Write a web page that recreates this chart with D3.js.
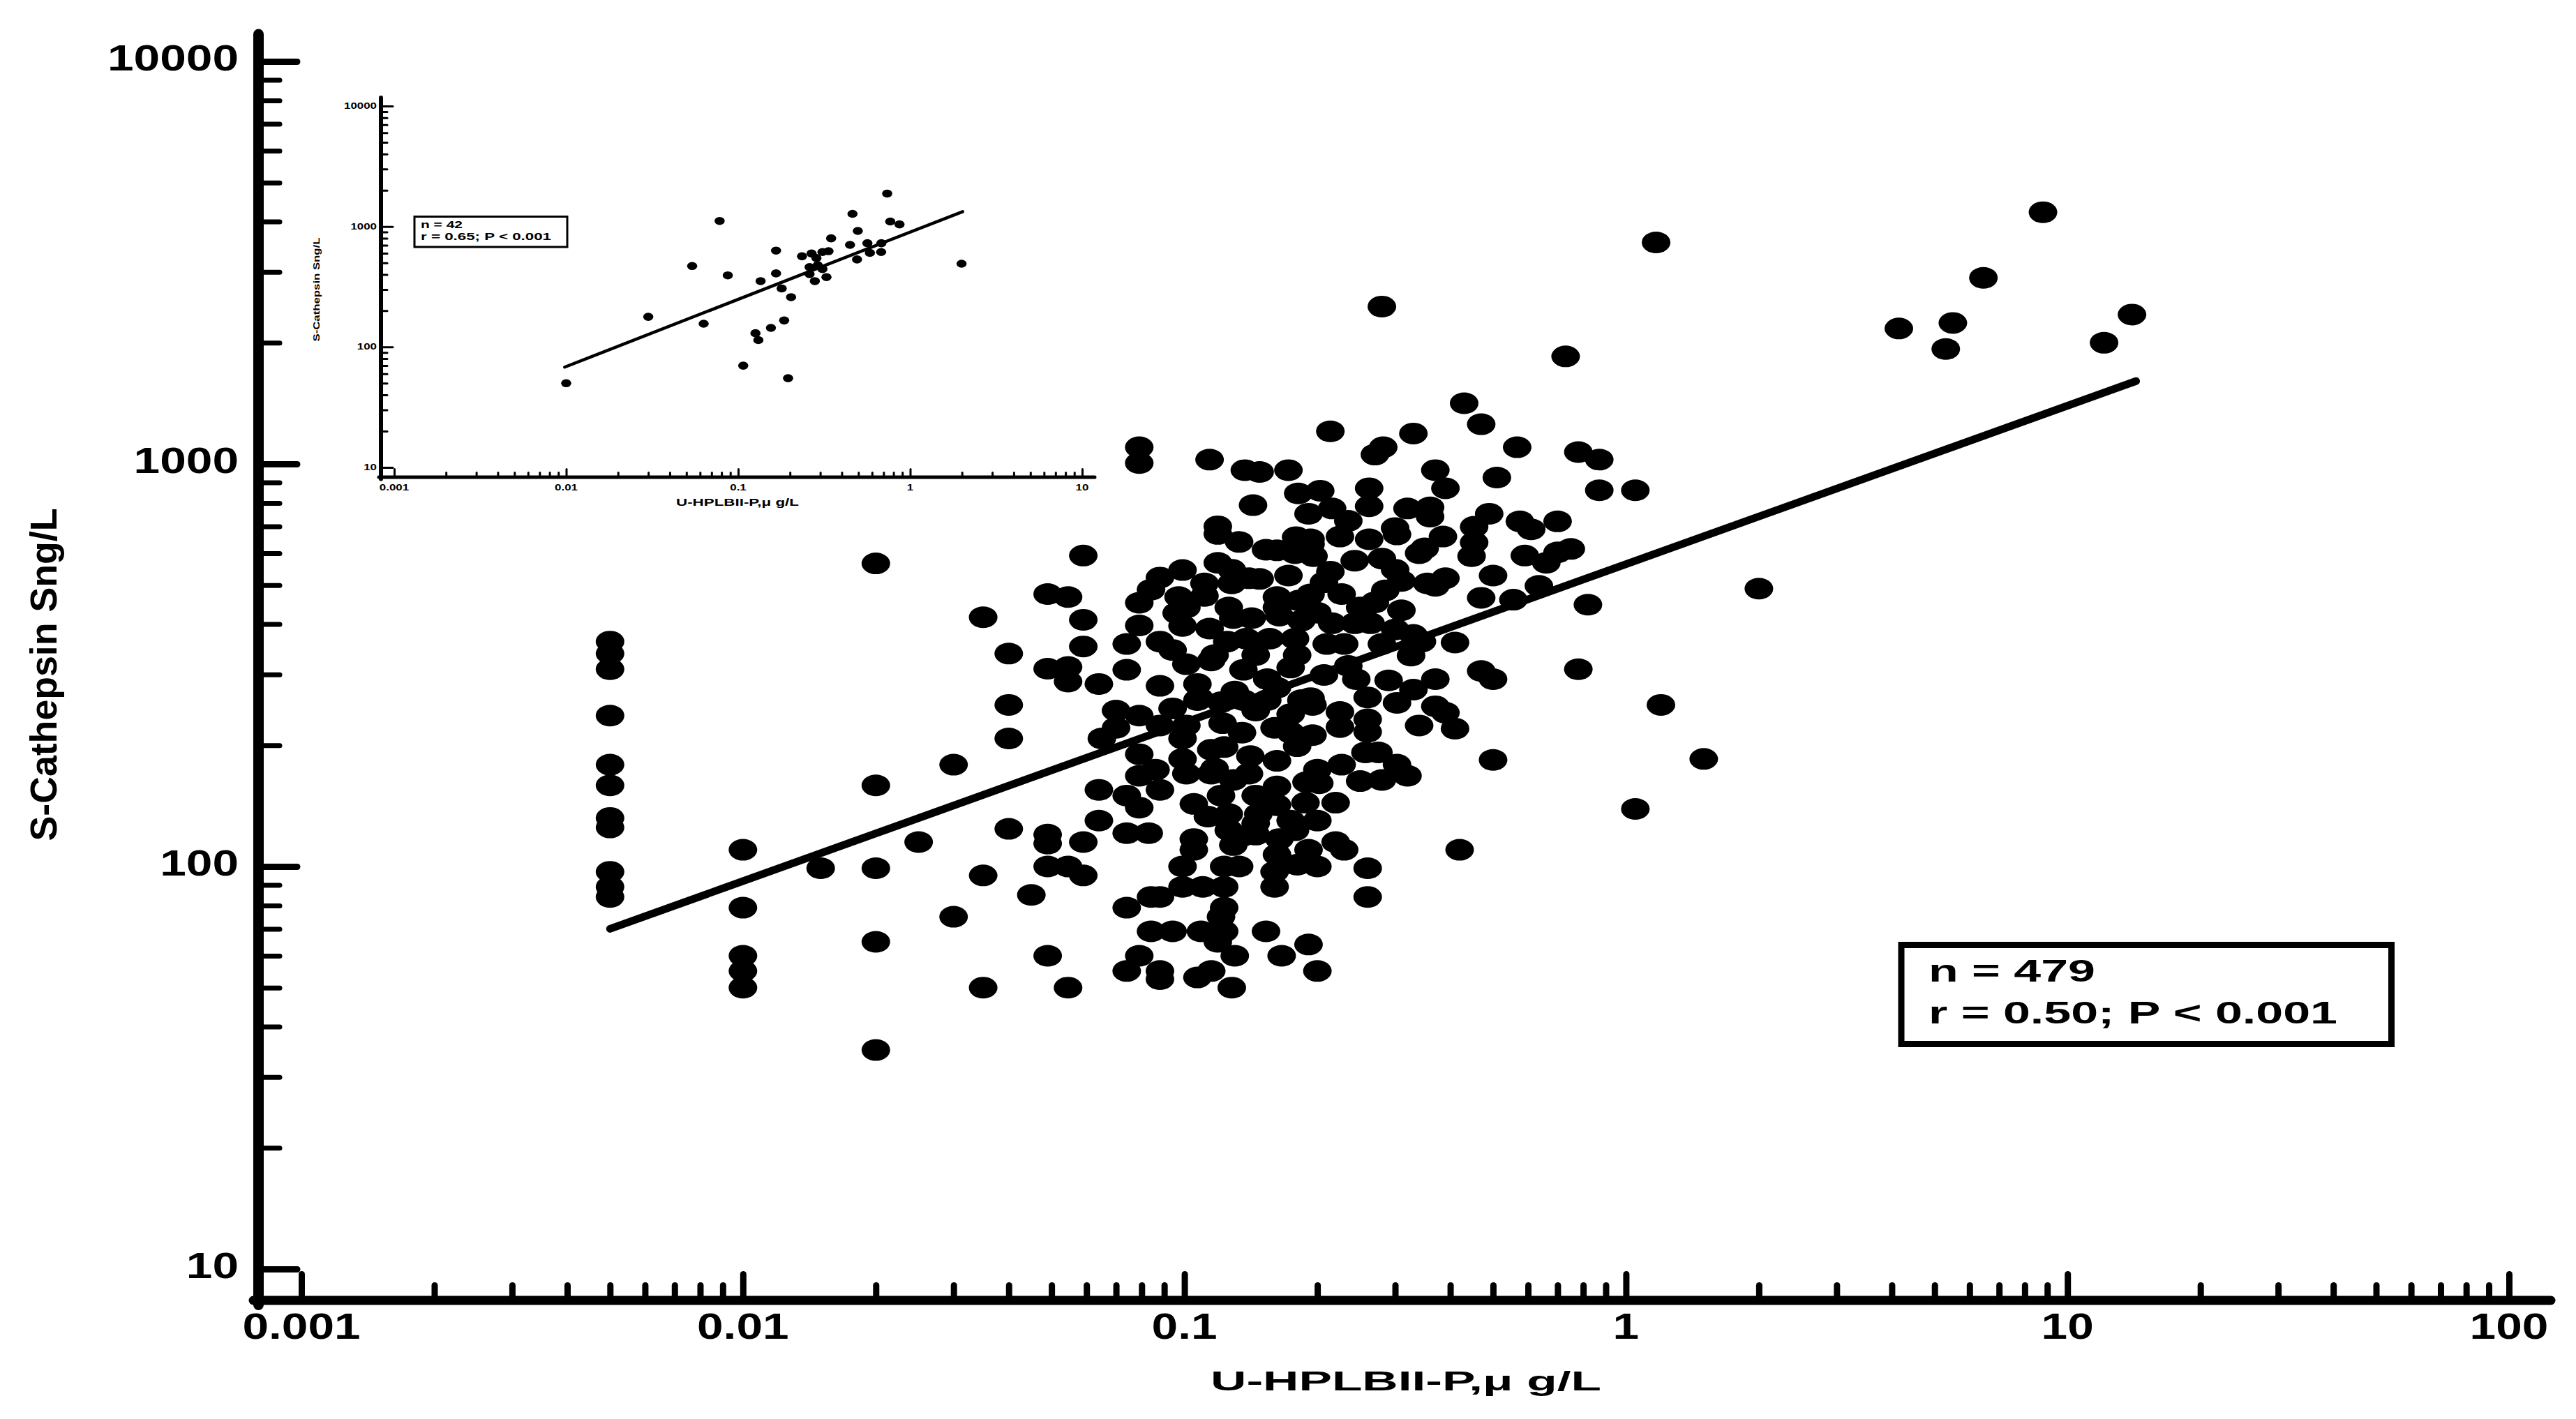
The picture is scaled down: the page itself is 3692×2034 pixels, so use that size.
<!DOCTYPE html>
<html>
<head>
<meta charset="utf-8">
<script src="https://cdn.jsdelivr.net/npm/d3@7"></script>
<style>
  body { margin: 0; background: #fff; }
  text { font-family: 'Liberation Sans', Arial, sans-serif; font-weight: bold; fill: #000; }
</style>
</head>
<body>
<div id="chart"></div>
<script>
// main scatter, [U-HPLBII-P ug/L, S-Cathepsin S ng/L]
var mainLow = [[0.005,362],[0.005,338],[0.005,309],[0.005,237],[0.005,179],[0.005,159],[0.005,132],[0.005,125],[0.005,97],[0.005,89],[0.005,84],
  [0.01,110],[0.01,79],[0.01,60],[0.01,55],[0.01,50],[0.015,99],
  [0.02,566],[0.02,159],[0.02,99],[0.02,65],[0.02,35],[0.025,115],[0.03,179],[0.03,75],
  [0.035,416],[0.035,95],[0.035,50],[0.04,338],[0.04,252],[0.04,208],[0.04,124],[0.045,85]];

var mainUpperLeft = [[0.079,1100],[0.079,1005],[0.114,1025],[0.137,965],[0.148,955],[0.172,965],[0.214,1205],[0.181,845],[0.203,858],[0.191,752],
  [0.143,790],[0.119,700],[0.119,670],[0.133,640],[0.153,612],[0.179,658],[0.193,650],[0.178,600],[0.196,590],[0.059,592],[0.099,545],[0.088,522],
  [0.119,568],[0.128,546],[0.128,505],[0.111,505],[0.148,518],[0.172,528],[0.207,508],[0.049,475],[0.0545,467],[0.084,487],[0.079,452],[0.097,467],
  [0.096,426],[0.111,470],[0.162,467],[0.182,458],[0.193,474],[0.059,410],[0.079,397],[0.099,396],[0.114,390],[0.129,414],[0.142,414],[0.164,420],
  [0.184,408],[0.2,427],[0.059,352],[0.074,357],[0.088,362],[0.125,362],[0.138,368],[0.156,368],[0.178,368],[0.049,310],[0.0545,313],[0.0545,288],
  [0.064,284],[0.074,308],[0.088,281],[0.101,318],[0.115,325],[0.136,308],[0.154,292],[0.174,312],[0.207,299],[0.107,284]];

var mainUpperRight = [[0.43,1415],[0.47,1255],[0.33,1190],[0.282,1100],[0.27,1055],[0.567,1100],[0.78,1070],[0.87,1025],[0.37,965],[0.39,870],
  [0.51,925],[0.87,860],[1.05,860],[0.216,775],[0.262,785],[0.32,775],[0.36,780],[0.36,740],[0.235,722],[0.3,693],[0.303,668],[0.385,660],[0.49,752],
  [0.453,698],[0.453,638],[0.447,590],[0.575,720],[0.61,688],[0.7,720],[0.75,615],[0.7,603],[0.59,592],[0.66,568],[0.262,650],[0.225,660],[0.243,575],
  [0.28,582],[0.34,600],[0.35,617],[0.3,546],[0.5,528],[0.39,520],[0.355,505],[0.31,512],[0.285,485],[0.227,475],[0.27,453],[0.31,433],[0.47,465],
  [0.556,460],[0.635,498],[0.82,447],[0.216,402],[0.243,402],[0.264,402],[0.23,357],[0.28,357],[0.33,376],[0.345,362],[0.326,334],[0.21,357],
  [0.245,292],[0.29,290],[0.37,292],[0.47,306],[0.5,292],[0.78,309],[0.33,275]];

var mainLowerLeft = [[0.07,244],[0.079,237],[0.094,247],[0.07,221],[0.065,208],[0.088,224],[0.099,208],[0.079,190],[0.099,185],[0.115,195],[0.123,198],
  [0.107,259],[0.121,256],[0.136,259],[0.154,259],[0.184,259],[0.195,252],[0.122,227],[0.16,221],[0.195,212],[0.141,188],[0.162,183],[0.18,199],
  [0.079,168],[0.088,155],[0.086,174],[0.101,170],[0.115,170],[0.129,164],[0.162,158],[0.189,162],[0.202,161],[0.064,155],[0.074,150],[0.079,140],
  [0.105,143],[0.121,150],[0.126,135],[0.147,135],[0.162,142],[0.174,130],[0.2,130],[0.064,130],[0.074,121],[0.083,121],[0.049,120],[0.049,114],
  [0.059,115],[0.105,117],[0.105,110],[0.126,123],[0.129,113],[0.145,120],[0.164,117],[0.191,110],[0.178,123],[0.049,100],[0.0545,100],[0.059,95],
  [0.099,100],[0.123,100],[0.133,100],[0.16,97],[0.16,89],[0.2,100],[0.099,89],[0.11,89],[0.123,89],[0.084,84],[0.088,84],[0.074,79],[0.123,79],
  [0.121,75],[0.084,69],[0.094,69],[0.109,69],[0.123,69],[0.119,65],[0.153,69],[0.13,60],[0.166,60],[0.191,64],[0.049,60],[0.079,60],[0.074,55],
  [0.088,55],[0.088,52.5],[0.107,53],[0.115,55],[0.128,50],[0.0545,50],[0.2,55]];

var mainLowerRight = [[0.26,263],[0.303,255],[0.225,242],[0.37,250],[0.39,241],[0.34,224],[0.41,220],[0.26,216],[0.225,222],[0.257,192],[0.275,192],
  [0.227,179],[0.303,179],[0.32,168],[0.28,164],[0.22,144],[0.22,115],[0.23,110],[0.26,99],[0.26,84],[0.42,110],[0.5,184],[1.05,139]];

// points mostly hidden inside the solid black core of the cloud
var mainCore = [[0.108,262],[0.145,244],[0.174,239],[0.135,215],[0.174,215],[0.145,128],[0.162,107],[0.135,119],[0.18,101],[0.117,335],
  [0.145,335],[0.18,335],[0.13,272],[0.162,278],[0.193,262],[0.126,440],[0.162,440],[0.101,224],[0.117,175],[0.14,170],[0.145,150],[0.188,144],
  [0.094,345],[0.101,440],[0.14,520],[0.162,610],[0.214,540],[0.25,440],[0.235,315],[0.26,232],[0.25,163],[0.3,388],[0.37,498],[0.41,360],
  [0.2,174],[0.113,133],[0.193,632],[0.262,870]];

var mainHigh = [[1.17,3550],[8.8,4220],[6.45,2900],[4.15,2170],[5.5,2240],[5.3,1930],[14,2350],[12.1,2000],[2.0,490],[1.2,252],[1.5,185],
  [0.28,2460],[0.73,1850]];

var mainFit = [[0.005,70],[14.3,1606]];

// inset (n = 42)
var insetData = [[0.01,50],[0.03,178],[0.054,470],[0.063,156],[0.078,1112],[0.087,393],[0.107,70],[0.126,130],[0.131,114],[0.135,352],
  [0.155,144],[0.166,631],[0.166,408],[0.179,306],[0.185,166],[0.195,55],[0.203,259],[0.235,566],[0.26,460],[0.26,402],[0.267,597],
  [0.279,352],[0.285,547],[0.29,478],[0.309,614],[0.309,443],[0.326,380],[0.335,624],[0.347,798],[0.447,704],[0.462,1274],[0.491,533],
  [0.496,919],[0.564,727],[0.583,604],[0.678,614],[0.68,727],[0.735,1877],[0.766,1100],[0.867,1042],[1.99,491]];
var insetFit = [[0.0098,68],[2.02,1330]];

var xMajor = [0.001, 0.01, 0.1, 1, 10, 100];
var xLabels = ['0.001', '0.01', '0.1', '1', '10', '100'];
var yMajor = [10, 100, 1000, 10000];
var yLabels = ['10', '100', '1000', '10000'];
var insetXMajor = [0.001, 0.01, 0.1, 1, 10];
var insetXLabels = ['0.001', '0.01', '0.1', '1', '10'];

var xTitle = 'U-HPLBII-P,\u03bc g/L';
var yTitle = 'S-Cathepsin Sng/L';
var mainStats = ['n = 479', 'r = 0.50; P < 0.001'];
var insetStats = ['n = 42', 'r = 0.65; P < 0.001'];

var W = 3692, H = 2034;
var svg = d3.select('#chart').append('svg')
  .attr('width', W).attr('height', H);
svg.append('rect').attr('width', W).attr('height', H).attr('fill', '#fff');

// widen text the way the original (stretched) figure shows it
function stretch(sel, k) {
  sel.each(function() {
    var w = this.getComputedTextLength();
    d3.select(this).attr('textLength', w * k).attr('lengthAdjust', 'spacingAndGlyphs');
  });
}

function minors(scale, majors) {
  return scale.ticks().filter(function(v) {
    return majors.indexOf(v) < 0 && v >= scale.domain()[0] && v <= scale.domain()[1];
  });
}

function drawPanel(g, o) {
  var x = d3.scaleLog().domain(o.xDomain).range(o.xRange);
  var y = d3.scaleLog().domain([10, 10000]).range(o.yRange);

  // axis lines
  g.append('line')
    .attr('x1', o.yAxisX).attr('x2', o.yAxisX)
    .attr('y1', o.yAxisTop).attr('y2', o.xAxisY + o.xAxisW / 2)
    .attr('stroke', '#000').attr('stroke-width', o.yAxisW).attr('stroke-linecap', 'round');
  g.append('line')
    .attr('x1', o.yAxisX - o.yAxisW / 2).attr('x2', o.xAxisRight)
    .attr('y1', o.xAxisY).attr('y2', o.xAxisY)
    .attr('stroke', '#000').attr('stroke-width', o.xAxisW).attr('stroke-linecap', 'round');

  var xt = o.xAxisY - o.xAxisW / 2 + 2;
  var yt = o.yAxisX + o.yAxisW / 2 - 2;
  var axes = [
    [d3.axisTop(x).tickValues(o.xMajor).tickSize(o.xMajorLen), 'translate(0,' + xt + ')', o.xTickW],
    [d3.axisTop(x).tickValues(minors(x, o.xMajor)).tickSize(o.xMinorLen), 'translate(0,' + xt + ')', o.xTickW],
    [d3.axisRight(y).tickValues(yMajor).tickSize(o.yMajorLen), 'translate(' + yt + ',0)', o.yMajorW],
    [d3.axisRight(y).tickValues(minors(y, yMajor)).tickSize(o.yMinorLen), 'translate(' + yt + ',0)', o.yMinorW]
  ];
  axes.forEach(function(a) {
    var ag = g.append('g').attr('transform', a[1]).call(a[0].tickFormat(''));
    ag.select('.domain').remove();
    ag.selectAll('line').attr('stroke', '#000').attr('stroke-width', a[2]).attr('stroke-linecap', 'round');
  });

  // tick labels
  var xl = g.selectAll('.xl').data(o.xMajor).enter().append('text')
    .attr('class', 'xl')
    .attr('x', function(d) { return x(d); })
    .attr('y', o.xLabelY)
    .attr('text-anchor', 'middle')
    .attr('font-size', o.tickFont)
    .text(function(d, i) { return o.xLabels[i]; });
  stretch(xl, o.tickStretch);
  var yl = g.selectAll('.yl').data(yMajor).enter().append('text')
    .attr('class', 'yl')
    .attr('x', o.yLabelRight)
    .attr('y', function(d) { return y(d) + o.yLabelDy; })
    .attr('text-anchor', 'end')
    .attr('font-size', o.tickFont)
    .text(function(d, i) { return yLabels[i]; });
  stretch(yl, o.tickStretch);

  // titles
  g.append('text')
    .attr('x', o.xTitleX).attr('y', o.xTitleY)
    .attr('text-anchor', 'middle')
    .attr('font-size', o.xTitleFont)
    .attr('textLength', o.xTitleLen).attr('lengthAdjust', 'spacingAndGlyphs')
    .text(xTitle);
  g.append('text')
    .attr('transform', 'translate(' + o.yTitleX + ',' + o.yTitleY + ') rotate(-90)')
    .attr('text-anchor', 'middle')
    .attr('font-size', o.yTitleFont)
    .attr('textLength', o.yTitleLen).attr('lengthAdjust', 'spacingAndGlyphs')
    .text(yTitle);

  // points
  g.append('g').selectAll('ellipse').data(o.points).enter().append('ellipse')
    .attr('cx', function(d) { return x(d[0]); })
    .attr('cy', function(d) { return y(d[1]); })
    .attr('rx', o.rx).attr('ry', o.ry)
    .attr('fill', '#000');

  // regression line
  g.append('path')
    .datum(o.fit)
    .attr('d', d3.line().x(function(d) { return x(d[0]); }).y(function(d) { return y(d[1]); }))
    .attr('stroke', '#000').attr('stroke-width', o.fitW).attr('stroke-linecap', 'round').attr('fill', 'none');

  // stats box
  var b = o.box;
  g.append('rect')
    .attr('x', b.x).attr('y', b.y).attr('width', b.w).attr('height', b.h)
    .attr('fill', '#fff').attr('stroke', '#000').attr('stroke-width', b.sw);
  o.stats.forEach(function(s, i) {
    g.append('text')
      .attr('x', b.tx).attr('y', b.ty[i])
      .attr('font-size', b.font)
      .attr('textLength', b.len[i]).attr('lengthAdjust', 'spacingAndGlyphs')
      .text(s);
  });
}

var mainPoints = mainLow.concat(mainUpperLeft, mainUpperRight, mainLowerLeft, mainLowerRight, mainCore, mainHigh);

drawPanel(svg.append('g'), {
  xDomain: [0.001, 100], xRange: [432, 3596], yRange: [1819, 88],
  yAxisX: 370.5, yAxisW: 15, yAxisTop: 49,
  xAxisY: 1864, xAxisW: 13, xAxisRight: 3656,
  xMajor: xMajor, xLabels: xLabels,
  xMajorLen: 33, xMinorLen: 17, xTickW: 9,
  yMajorLen: 50, yMinorLen: 25, yMajorW: 9, yMinorW: 7,
  xLabelY: 1919, yLabelRight: 342, yLabelDy: 13,
  tickFont: 52, tickStretch: 1.3,
  xTitleX: 2015, xTitleY: 1993, xTitleFont: 39, xTitleLen: 560,
  yTitleX: 81, yTitleY: 967, yTitleFont: 53, yTitleLen: 477,
  points: mainPoints, rx: 20.5, ry: 15.5,
  fit: mainFit, fitW: 11,
  stats: mainStats,
  box: {x: 2725, y: 1354.5, w: 702.5, h: 142, sw: 9, tx: 2764, ty: [1407, 1467], font: 44, len: [239, 586]}
});

drawPanel(svg.append('g'), {
  xDomain: [0.001, 10], xRange: [565, 1551], yRange: [670, 152],
  yAxisX: 546, yAxisW: 6, yAxisTop: 140,
  xAxisY: 684, xAxisW: 5, xAxisRight: 1569,
  xMajor: insetXMajor, xLabels: insetXLabels,
  xMajorLen: 11, xMinorLen: 6, xTickW: 3,
  yMajorLen: 16, yMinorLen: 8, yMajorW: 3, yMinorW: 3,
  xLabelY: 703, yLabelRight: 540, yLabelDy: 4,
  tickFont: 13, tickStretch: 1.3,
  xTitleX: 1057, xTitleY: 725, xTitleFont: 15, xTitleLen: 176,
  yTitleX: 458, yTitleY: 415, yTitleFont: 13, yTitleLen: 149,
  points: insetData, rx: 7.3, ry: 5.8,
  fit: insetFit, fitW: 4.5,
  stats: insetStats,
  box: {x: 594, y: 310.5, w: 219, h: 43.5, sw: 3, tx: 603, ty: [326.5, 344], font: 14, len: [60, 187]}
});
</script>
</body>
</html>
